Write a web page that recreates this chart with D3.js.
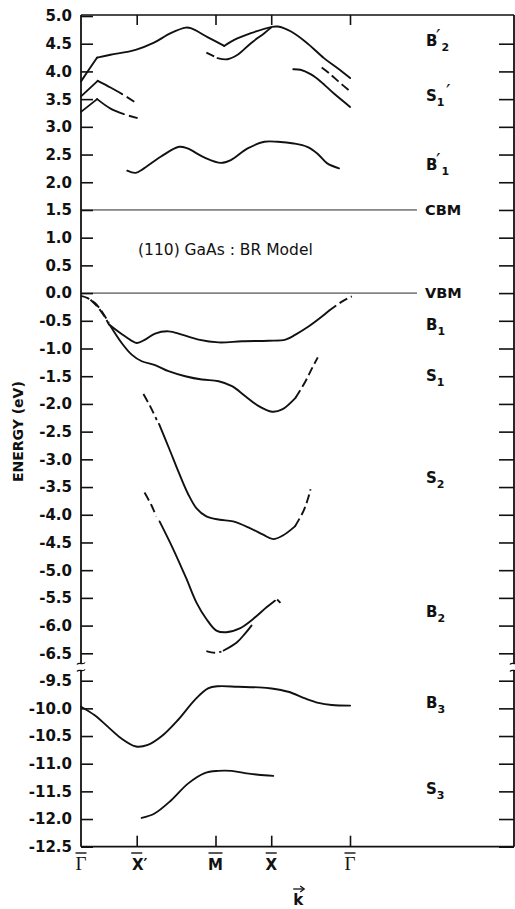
<!DOCTYPE html>
<html>
<head>
<meta charset="utf-8">
<script src="https://cdn.jsdelivr.net/npm/d3@7"></script>
<style>
  html, body { margin: 0; padding: 0; background: #fff; }
  svg { display: block; }
</style>
</head>
<body>
<svg id="chart" width="515" height="909"></svg>
<script>
// ---- Surface symmetry points along the k path (Γ X' M X Γ), in units of ΓX'
const symLabels = ["Γ", "X′", "M", "X", "Γ"];
const symK = [0, 1, 2.414, 3.414, 4.828];

// ---- Energy ticks (eV); the axis is broken between -6.5 and -9.5
const energyTicks = [5.0, 4.5, 4.0, 3.5, 3.0, 2.5, 2.0, 1.5, 1.0, 0.5, 0.0,
  -0.5, -1.0, -1.5, -2.0, -2.5, -3.0, -3.5, -4.0, -4.5, -5.0, -5.5, -6.0, -6.5,
  -9.5, -10.0, -10.5, -11.0, -11.5, -12.0, -12.5];

// ---- Reference levels
const cbm = 1.5;
const vbm = 0.0;

// ---- Band pieces: [k, E(eV)]
// B2' (upper conduction band)
const b2pRise = [[0, 3.82], [0.14, 4.03], [0.29, 4.25]];
const b2pLeft = [[0.29, 4.25], [0.53, 4.30], [0.98, 4.39], [1.31, 4.52], [1.61, 4.69],
  [1.88, 4.79], [1.97, 4.78], [2.27, 4.62], [2.57, 4.46]];
const b2pRight = [[2.57, 4.46], [2.75, 4.57], [3.05, 4.69], [3.41, 4.80], [3.53, 4.81],
  [3.77, 4.72], [4.06, 4.51], [4.36, 4.24], [4.60, 4.06], [4.83, 3.88]];
const b2pLowerHead = [[2.25, 4.34], [2.39, 4.27]];
const b2pLower = [[2.45, 4.24], [2.63, 4.22], [2.81, 4.30], [3.05, 4.51], [3.29, 4.69], [3.41, 4.79]];
const rightMidDash = [[4.32, 4.07], [4.45, 3.97], [4.62, 3.82], [4.83, 3.64]];
const rightLower = [[3.81, 4.04], [3.94, 4.03], [4.12, 3.95], [4.30, 3.82], [4.54, 3.60], [4.83, 3.36]];

// S1' (surface states near Γ)
const s1pRise = [[0, 3.55], [0.30, 3.83]];
const s1pFall = [[0.30, 3.83], [0.53, 3.71], [0.74, 3.59]];
const s1pTail = [[0.82, 3.54], [0.96, 3.45]];
const s1pLowRise = [[0, 3.27], [0.29, 3.50]];
const s1pLowFall = [[0.29, 3.50], [0.53, 3.33], [0.77, 3.23]];
const s1pLowTail = [[0.86, 3.20], [1.04, 3.15]];

// B1'
const b1p = [[0.83, 2.21], [0.98, 2.17], [1.13, 2.25], [1.43, 2.46], [1.76, 2.64], [1.91, 2.61],
  [2.21, 2.45], [2.51, 2.35], [2.69, 2.40], [2.99, 2.61], [3.29, 2.73], [3.53, 2.73],
  [3.82, 2.70], [4.06, 2.64], [4.24, 2.52], [4.42, 2.34], [4.63, 2.25]];

// B1
const b1Head = [[0, -0.05], [0.12, -0.09], [0.25, -0.18], [0.38, -0.34], [0.50, -0.54]];
const b1 = [[0.52, -0.58], [0.79, -0.78], [1.00, -0.90], [1.15, -0.84], [1.33, -0.73], [1.57, -0.69],
  [1.81, -0.75], [2.11, -0.84], [2.47, -0.89], [2.89, -0.87], [3.37, -0.86], [3.67, -0.84],
  [3.85, -0.75], [4.09, -0.60], [4.33, -0.42], [4.45, -0.32]];
const b1Tail = [[4.45, -0.32], [4.69, -0.15], [4.86, -0.06]];

// S1
const s1Head = [[0.17, -0.12], [0.30, -0.25], [0.42, -0.42], [0.51, -0.58]];
const s1 = [[0.52, -0.58], [0.73, -0.90], [0.91, -1.11], [1.09, -1.23], [1.33, -1.30], [1.57, -1.41],
  [1.87, -1.50], [2.17, -1.56], [2.47, -1.59], [2.71, -1.68], [2.95, -1.86], [3.19, -2.04],
  [3.43, -2.14], [3.61, -2.10], [3.85, -1.89]];
const s1Tail = [[3.85, -1.89], [4.03, -1.59], [4.15, -1.35], [4.25, -1.16]];

// S2
const s2Head = [[1.12, -1.82], [1.24, -2.04], [1.36, -2.29]];
const s2 = [[1.40, -2.36], [1.58, -2.80], [1.76, -3.25], [1.92, -3.62], [2.07, -3.88], [2.25, -4.03],
  [2.49, -4.09], [2.73, -4.12], [3.03, -4.24], [3.27, -4.36], [3.45, -4.44], [3.63, -4.37], [3.84, -4.21]];
const s2Tail = [[3.84, -4.21], [3.99, -3.94], [4.08, -3.69], [4.12, -3.54]];

// B2
const b2Head = [[1.14, -3.60], [1.26, -3.82], [1.35, -4.03]];
const b2 = [[1.41, -4.12], [1.65, -4.61], [1.89, -5.15], [2.07, -5.58], [2.25, -5.88], [2.43, -6.09],
  [2.61, -6.12], [2.85, -6.05], [3.09, -5.88], [3.33, -5.67], [3.48, -5.55]];
const b2Tail = [[3.52, -5.53], [3.58, -5.59]];
const b2LowHead = [[2.25, -6.46], [2.40, -6.49], [2.52, -6.47]];
const b2Low = [[2.56, -6.45], [2.79, -6.31], [2.94, -6.15], [3.06, -6.00]];

// B3 and S3
const b3 = [[0, -9.97], [0.24, -10.12], [0.48, -10.33], [0.72, -10.54], [0.99, -10.69], [1.20, -10.66],
  [1.44, -10.51], [1.74, -10.21], [2.04, -9.85], [2.28, -9.64], [2.46, -9.60], [2.82, -9.61],
  [3.18, -9.62], [3.42, -9.64], [3.72, -9.70], [4.02, -9.82], [4.26, -9.90], [4.50, -9.94], [4.83, -9.95]];
const s3 = [[1.09, -11.98], [1.32, -11.90], [1.62, -11.66], [1.92, -11.36], [2.22, -11.17], [2.46, -11.13],
  [2.70, -11.13], [2.94, -11.17], [3.18, -11.20], [3.45, -11.22]];

// ---- Grouping by line style
const kinkSegments = [b2pRise, s1pRise, s1pLowRise];
const solidCurves = [b2pLeft, b2pRight, b2pLower, rightLower, s1pFall, s1pLowFall, b1p,
  b1, s1, s2, b2, b2Low, b3, s3];
const dashedCurves = [b2pLowerHead, rightMidDash, s1pTail, s1pLowTail, b1Head, b1Tail,
  s1Head, s1Tail, s2Head, s2Tail, b2Head, b2Tail, b2LowHead];

// ---- Band labels on the right
const bandNames = ["B", "S", "B", "B", "S", "S", "B", "B", "S"];
const bandSubs = ["2", "1", "1", "1", "1", "2", "2", "3", "3"];
const bandPrimeStyle = ["stack", "after", "stack", "", "", "", "", "", ""];
const bandLabelE = [4.55, 3.56, 2.32, -0.56, -1.48, -3.33, -5.75, -9.9, -11.45];
const levelNames = ["CBM", "VBM"];
const levelE = [cbm, vbm];

// ---- Scales
const svg = d3.select("#chart");
const axL = 81, axR = 514, axT = 15, axB = 846.7;
const x = d3.scaleLinear().domain([symK[0], symK[symK.length - 1]]).range([axL, 350]);
const y = d3.scaleLinear().domain([-12.5, -9.5, -6.5, 5.0]).range([axB, 680.7, 653.3, 16]);

const ink = "#111";
const breakY = (y(-6.5) + y(-9.5)) / 2;

// ---- Frame
const frame = svg.append("g").attr("stroke", ink).attr("fill", "none");
frame.append("line").attr("x1", axL).attr("x2", axR).attr("y1", axT).attr("y2", axT).attr("stroke-width", 1.6);
frame.append("line").attr("x1", axL).attr("x2", axR).attr("y1", axB).attr("y2", axB).attr("stroke-width", 1.8);
// side axes, interrupted at the break
[axL, axR].forEach(ax => {
  frame.append("line").attr("x1", ax).attr("x2", ax).attr("y1", axT).attr("y2", breakY - 3.5).attr("stroke-width", 1.8);
  frame.append("line").attr("x1", ax).attr("x2", ax).attr("y1", breakY + 3.5).attr("y2", axB).attr("stroke-width", 1.8);
  [-3.5, 3.5].forEach(off => {
    const yy = breakY + off;
    frame.append("path")
      .attr("d", `M${ax - 4},${yy + 1} C${ax - 2},${yy - 2} ${ax + 2},${yy + 2} ${ax + 4},${yy - 1}`)
      .attr("stroke-width", 1.3);
  });
});

// ---- Left axis with inward ticks
const yAxisL = d3.axisRight(y).tickValues(energyTicks).tickSize(12).tickFormat("");
const gL = svg.append("g").attr("transform", `translate(${axL},0)`).call(yAxisL);
gL.select(".domain").remove();
gL.selectAll(".tick line").attr("stroke", ink).attr("stroke-width", 1.6);

svg.append("g").selectAll("text").data(energyTicks).join("text")
  .attr("x", axL - 9)
  .attr("y", d => y(d))
  .attr("dy", "0.36em")
  .attr("text-anchor", "end")
  .attr("font-family", "DejaVu Sans, sans-serif")
  .attr("font-weight", "bold")
  .attr("font-size", 15)
  .attr("fill", ink)
  .text(d => d.toFixed(1));

// ---- Right axis ticks
const yAxisR = d3.axisLeft(y).tickValues(energyTicks.filter(v => v !== 5.0)).tickSize(15).tickFormat("");
const gR = svg.append("g").attr("transform", `translate(${axR},0)`).call(yAxisR);
gR.select(".domain").remove();
gR.selectAll(".tick line").attr("stroke", ink).attr("stroke-width", 1.6);

// ---- Top and bottom ticks at symmetry points
const kTicks = symK.slice(1);
const xAxisB = d3.axisTop(x).tickValues(kTicks).tickSize(11).tickFormat("");
const gB = svg.append("g").attr("transform", `translate(0,${axB})`).call(xAxisB);
gB.select(".domain").remove();
gB.selectAll(".tick line").attr("stroke", ink).attr("stroke-width", 1.6);
const xAxisT = d3.axisBottom(x).tickValues(kTicks).tickSize(10).tickFormat("");
const gT = svg.append("g").attr("transform", `translate(0,${axT})`).call(xAxisT);
gT.select(".domain").remove();
gT.selectAll(".tick line").attr("stroke", ink).attr("stroke-width", 1.6);

// ---- Symmetry point labels with overbars
const sym = svg.append("g").selectAll("g").data(symLabels.map((s, i) => ({ s, k: symK[i] }))).join("g")
  .attr("transform", d => `translate(${x(d.k)},0)`);
sym.append("text")
  .attr("x", d => d.s === "X′" ? 3 : 0)
  .attr("y", 870)
  .attr("text-anchor", "middle")
  .attr("font-family", d => d.s === "Γ" ? "Liberation Serif, serif" : "DejaVu Sans, sans-serif")
  .attr("font-weight", d => d.s === "Γ" ? "normal" : "bold")
  .attr("font-size", d => d.s === "Γ" ? 19 : 15)
  .attr("fill", ink)
  .text(d => d.s);
sym.append("line")
  .attr("x1", d => d.s === "M" ? -7 : -5.5)
  .attr("x2", d => d.s === "M" ? 7 : 5.5)
  .attr("y1", 853).attr("y2", 853)
  .attr("stroke", ink).attr("stroke-width", 1.4);

// ---- k axis title with vector arrow
const kx = x(symK[3]) + 27;
svg.append("text").attr("x", kx).attr("y", 905).attr("text-anchor", "middle")
  .attr("font-family", "DejaVu Sans, sans-serif").attr("font-weight", "bold").attr("font-size", 15)
  .attr("fill", ink).text("k");
svg.append("line").attr("x1", kx - 5).attr("x2", kx + 5).attr("y1", 889).attr("y2", 889)
  .attr("stroke", ink).attr("stroke-width", 1.3);
svg.append("path").attr("d", `M${kx + 2},${886} L${kx + 6},${889} L${kx + 2},${892}`)
  .attr("fill", "none").attr("stroke", ink).attr("stroke-width", 1.3);

// ---- Energy axis title
svg.append("text")
  .attr("transform", `translate(23,${y(-2.5)}) rotate(-90)`)
  .attr("text-anchor", "middle")
  .attr("font-family", "DejaVu Sans, sans-serif")
  .attr("font-weight", "bold")
  .attr("font-size", 14)
  .attr("fill", ink)
  .text("ENERGY (eV)");

// ---- Model caption
svg.append("text")
  .attr("x", 138).attr("y", 255)
  .attr("font-family", "DejaVu Sans, sans-serif")
  .attr("font-size", 15.5)
  .attr("fill", ink)
  .text("(110) GaAs : BR Model");

// ---- CBM / VBM reference lines
svg.append("g").selectAll("line").data(levelE).join("line")
  .attr("x1", axL).attr("x2", 417)
  .attr("y1", d => y(d)).attr("y2", d => y(d))
  .attr("stroke", ink).attr("stroke-width", 0.9);
svg.append("g").selectAll("text").data(levelNames).join("text")
  .attr("x", 425).attr("y", (d, i) => y(levelE[i]))
  .attr("dy", "0.36em")
  .attr("font-family", "DejaVu Sans, sans-serif").attr("font-weight", "bold").attr("font-size", 14.5)
  .attr("fill", ink)
  .text(d => d);

// ---- Band curves
const smooth = d3.line().x(d => x(d[0])).y(d => y(d[1])).curve(d3.curveCatmullRom.alpha(0.5));
const straight = d3.line().x(d => x(d[0])).y(d => y(d[1]));
const bands = svg.append("g").attr("fill", "none").attr("stroke", ink)
  .attr("stroke-width", 1.9).attr("stroke-linecap", "round").attr("stroke-linejoin", "round");
bands.selectAll("path.kink").data(kinkSegments).join("path").attr("class", "kink").attr("d", straight);
bands.selectAll("path.solid").data(solidCurves).join("path").attr("class", "solid").attr("d", smooth);
bands.selectAll("path.dash").data(dashedCurves).join("path").attr("class", "dash").attr("d", smooth)
  .attr("stroke-dasharray", "9,4").attr("stroke-linecap", "butt");

// ---- Band labels: letter, subscript index and (for primed bands) a prime mark
const lab = svg.append("g").attr("font-family", "DejaVu Sans, sans-serif").attr("font-weight", "bold")
  .attr("fill", ink);
bandNames.forEach((n, i) => {
  const yy = y(bandLabelE[i]);
  const t = lab.append("text").attr("x", 426).attr("y", yy).attr("dy", "0.36em").attr("font-size", 15);
  t.append("tspan").text(n);
  if (bandPrimeStyle[i] === "stack") {
    // prime above, index below and slightly to the right
    t.append("tspan").attr("font-size", 11).attr("dx", 4).attr("dy", 5).text(bandSubs[i]);
    lab.append("text").attr("x", 436).attr("y", yy + 2).attr("font-size", 20).attr("font-weight", "normal")
      .text("′");
  } else if (bandPrimeStyle[i] === "after") {
    t.append("tspan").attr("font-size", 11).attr("dy", 5).text(bandSubs[i]);
    lab.append("text").attr("x", 446).attr("y", yy + 2).attr("font-size", 20).attr("font-weight", "normal")
      .text("′");
  } else {
    t.append("tspan").attr("font-size", 11).attr("dy", 5).text(bandSubs[i]);
  }
});
</script>
</body>
</html>
